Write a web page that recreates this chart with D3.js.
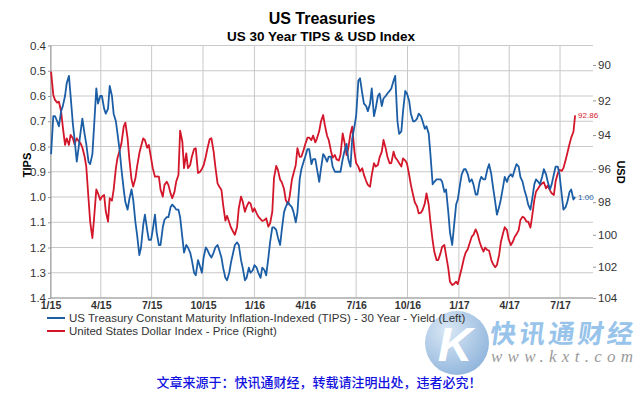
<!DOCTYPE html>
<html>
<head>
<meta charset="utf-8">
<script src="https://cdnjs.cloudflare.com/ajax/libs/d3/7.8.5/d3.min.js"></script>
<style>
body{margin:0;background:#fff;}
text{font-family:"Liberation Sans",Arial,sans-serif;}
</style>
</head>
<body>
<div id="chart"></div>
<script>
// two readings a week (Friday, then the following Tuesday), first Friday of 2015 onward
var firstWeek = "2015-01-02";
var tipsYield = [
	0.83,0.68, 0.68,0.70, 0.72,0.66, 0.64,0.60, 0.55,0.52, 0.60,0.71, 0.77,0.86, 0.81,0.74, 0.69,0.75, 0.79,0.86,
	0.87,0.83, 0.72,0.57, 0.63,0.60, 0.60,0.65, 0.67,0.65, 0.56,0.60, 0.67,0.70, 0.75,0.82, 0.89,0.97, 1.02,1.05,
	1.01,0.97, 1.01,1.10, 1.15,1.23, 1.20,1.11, 1.07,1.13, 1.17,1.17, 1.13,1.07, 1.14,1.19, 1.19,1.12, 1.09,1.08,
	1.08,1.04, 1.03,1.04, 1.05,1.05, 1.08,1.16, 1.22,1.19, 1.20,1.22, 1.25,1.30, 1.31,1.25, 1.27,1.30, 1.24,1.20,
	1.21,1.23, 1.24,1.22, 1.20,1.19, 1.21,1.24, 1.28,1.32, 1.33,1.30, 1.26,1.22, 1.19,1.18, 1.19,1.25, 1.28,1.33,
	1.32,1.28, 1.30,1.29, 1.27,1.28, 1.30,1.32, 1.28,1.29, 1.31,1.24, 1.18,1.12, 1.12,1.13, 1.16,1.19, 1.13,1.06,
	1.04,1.02, 1.03,1.04, 1.06,1.10, 1.06,0.93, 0.89,0.86, 0.84,0.81, 0.81,0.87, 0.85,0.85, 0.89,0.94, 0.89,0.83,
	0.84,0.86, 0.84,0.84, 0.88,0.90, 0.90,0.90, 0.90,0.85, 0.82,0.79, 0.85,0.88, 0.77,0.72, 0.68,0.54, 0.53,0.59,
	0.63,0.64, 0.66,0.63, 0.57,0.68, 0.65,0.60, 0.59,0.64, 0.61,0.60, 0.59,0.58, 0.57,0.54, 0.52,0.70, 0.75,0.74,
	0.66,0.58, 0.59,0.62, 0.67,0.70, 0.70,0.69, 0.67,0.68, 0.70,0.73, 0.72,0.75, 0.83,0.95, 0.94,0.93, 0.93,0.93,
	0.94,0.98, 0.97,1.06, 1.14,1.19, 1.12,1.03, 1.01,0.95, 0.91,0.89, 0.89,0.91, 0.94,0.93, 0.95,0.99, 0.99,0.94,
	0.92,0.93, 0.93,0.89, 0.87,0.91, 0.96,1.02, 1.07,1.04, 1.01,0.96, 0.92,0.94, 0.92,0.91, 0.92,0.89, 0.87,0.88,
	0.92,0.94, 0.97,1.00, 1.03,1.05, 1.01,0.95, 0.93,0.94, 0.95,0.92, 0.89,0.91, 0.94,0.97, 0.95,0.91, 0.88,0.88,
	0.91,0.99, 1.05,1.04, 1.02,0.98, 0.97,1.01, 1.00
];
var usdIndex = [
	90.37,91.69, 91.97,92.13, 92.07,92.64, 93.51,94.58, 94.19,94.58, 93.99,94.19, 94.54,94.19, 94.34,94.50, 94.73,95.26, 95.85,97.76,
	99.19,100.20, 98.98,97.22, 97.46,97.86, 97.66,97.56, 98.57,99.19, 97.76,97.90, 97.25,95.96, 95.33,94.88, 94.48,93.51, 93.28,94.19,
	95.37,96.62, 97.05,96.56, 95.85,95.07, 94.67,94.19, 94.29,94.74, 94.58,95.36, 95.95,96.46, 96.45,96.46, 97.25,97.66, 96.95,96.76,
	96.95,97.48, 97.76,97.36, 96.75,96.36, 93.75,94.39, 95.95,95.07, 95.95,95.76, 95.27,94.82, 94.77,96.24, 96.19,96.00, 95.79,95.26,
	94.77,94.23, 94.19,94.97, 95.85,96.86, 97.05,97.26, 98.16,99.13, 98.83,99.24, 99.55,99.81, 100.00,99.50, 98.37,97.66, 97.96,98.58,
	98.27,98.00, 98.07,98.58, 98.37,98.68, 98.88,99.03, 99.15,99.09, 98.98,99.50, 99.30,98.58, 96.55,95.82, 96.05,96.64, 96.79,97.20,
	97.86,98.13, 97.66,96.66, 96.25,95.76, 94.77,95.28, 95.27,94.88, 94.54,94.15, 94.15,94.29, 94.03,94.43, 94.19,93.77, 93.22,92.84,
	93.41,94.04, 94.29,94.93, 95.33,95.17, 95.43,95.50, 95.17,93.90, 94.39,95.17, 94.77,93.90, 93.51,94.97, 95.65,95.86, 96.15,95.96,
	96.35,96.72, 96.95,97.06, 96.35,95.66, 95.85,95.76, 95.31,94.97, 94.29,94.78, 95.27,95.66, 95.65,94.97, 95.31,95.48, 95.65,95.86,
	95.37,95.50, 95.67,96.36, 96.95,97.56, 98.00,98.25, 98.68,98.64, 98.47,98.07, 97.46,98.17, 99.19,100.37, 101.06,101.58, 101.58,101.16,
	100.74,100.64, 101.27,102.10, 102.96,103.17, 103.11,102.95, 103.11,102.53, 102.10,101.47, 101.12,100.89, 100.54,100.12, 100.01,99.67, 99.91,100.43,
	100.74,101.05, 100.80,100.95, 100.99,101.58, 101.83,102.04, 101.89,101.26, 100.47,99.91, 99.53,99.71, 100.28,100.64, 100.47,100.12, 99.97,99.71,
	99.09,98.88, 98.95,99.19, 99.19,99.56, 98.88,97.86, 97.36,97.16, 96.99,96.86, 96.79,97.16, 96.99,97.28, 97.46,97.56, 96.75,96.26,
	96.05,96.12, 95.95,95.46, 95.07,94.52, 94.15,93.81, 92.86
];
var tipsTicks = [0.4,0.5,0.6,0.7,0.8,0.9,1.0,1.1,1.2,1.3,1.4];
var usdTicks = [90,92,94,96,98,100,102,104];
var seriesNames = [
	"US Treasury Constant Maturity Inflation-Indexed (TIPS) - 30 Year - Yield  (Left)",
	"United States Dollar Index - Price  (Right)"
];
var seriesColors = ["#1c5ea6","#d3162a"];

(function(){
	var width = 640;
	var height = 398;
	var plotLeft = 51, plotRight = 593, plotTop = 45.5, plotBottom = 298;
	var parse = d3.timeParse("%Y-%m-%d");
	var start = parse(firstWeek);
	var dates = tipsYield.map(function(d,i){
		return d3.timeDay.offset(start, 7*Math.floor(i/2) + (i%2)*4);
	});

	var svg = d3.select('#chart').append('svg')
		.attr('width', width)
		.attr('height', height);

	var x = d3.scaleTime()
		.domain([parse("2015-01-01"), parse("2017-08-29")])
		.range([50.5, plotRight]);
	var yL = d3.scaleLinear().domain([0.4,1.4]).range([plotTop,plotBottom]);
	var yR = d3.scaleLog().domain([88.92,104]).range([plotTop,plotBottom]);

	// grid
	var quarters = d3.timeMonth.every(3).range(parse("2015-01-01"), parse("2017-08-29"));
	svg.append('g').selectAll('line').data(tipsTicks).enter().append('line')
		.attr('x1', plotLeft).attr('x2', plotRight)
		.attr('y1', function(d){ return yL(d); }).attr('y2', function(d){ return yL(d); })
		.attr('stroke', '#c9c9c9');
	svg.append('g').selectAll('line').data(quarters).enter().append('line')
		.attr('x1', function(d){ return x(d); }).attr('x2', function(d){ return x(d); })
		.attr('y1', plotTop).attr('y2', plotBottom)
		.attr('stroke', '#c9c9c9');
	svg.append('line').attr('x1',plotLeft).attr('x2',plotLeft).attr('y1',plotTop).attr('y2',plotBottom).attr('stroke','#999');
	svg.append('line').attr('x1',plotLeft).attr('x2',plotRight).attr('y1',plotBottom).attr('y2',plotBottom).attr('stroke','#999');

	// axes
	var ax = svg.append('g').attr('transform','translate('+plotLeft+',0)')
		.call(d3.axisLeft(yL).tickValues(tipsTicks).tickFormat(d3.format('.1f')).tickSize(3).tickPadding(2));
	var ar = svg.append('g').attr('transform','translate('+plotRight+',0)')
		.call(d3.axisRight(yR).tickValues(usdTicks).tickFormat(d3.format('d')).tickSize(3).tickPadding(2));
	var ab = svg.append('g').attr('transform','translate(0,'+plotBottom+')')
		.call(d3.axisBottom(x).tickValues(quarters).tickFormat(d3.timeFormat('%-m/%y')).tickSize(0).tickPadding(4));
	[ax,ar,ab].forEach(function(g){
		g.select('.domain').remove();
		g.selectAll('line').attr('stroke','#999');
		g.selectAll('text').attr('fill','#333').style('font-size','11.5px');
	});
	ab.selectAll('text').style('font-weight','bold').style('font-size','10.5px');

	// series
	var lineL = d3.line().x(function(d,i){ return x(dates[i]); }).y(function(d){ return yL(d); });
	var lineR = d3.line().x(function(d,i){ return x(dates[i]); }).y(function(d){ return yR(d); });
	svg.append('path').attr('d', lineR(usdIndex)).attr('fill','none')
		.attr('stroke', seriesColors[1]).attr('stroke-width', 1.8).attr('stroke-linejoin','round');
	svg.append('path').attr('d', lineL(tipsYield)).attr('fill','none')
		.attr('stroke', seriesColors[0]).attr('stroke-width', 1.8).attr('stroke-linejoin','round');

	var n = dates.length-1;
	svg.append('text').attr('x', x(dates[n])+3).attr('y', yR(usdIndex[n])+3)
		.attr('fill', seriesColors[1]).style('font-size','8px').text(d3.format('.2f')(usdIndex[n]));
	svg.append('text').attr('x', x(dates[n])+3).attr('y', yL(tipsYield[n])+3)
		.attr('fill', seriesColors[0]).style('font-size','8px').text(d3.format('.2f')(tipsYield[n]));

	// titles
	svg.append('text').attr('x',322).attr('y',24).attr('text-anchor','middle')
		.style('font-size','16px').style('font-weight','bold').text('US Treasuries');
	svg.append('text').attr('x',321).attr('y',41).attr('text-anchor','middle')
		.style('font-size','13.5px').style('font-weight','bold').text('US 30 Year TIPS & USD Index');
	svg.append('text').attr('transform','translate(31,165) rotate(-90)').attr('text-anchor','middle')
		.style('font-size','11px').style('font-weight','bold').text('TIPS');
	svg.append('text').attr('transform','translate(617,172) rotate(90)').attr('text-anchor','middle')
		.style('font-size','11px').style('font-weight','bold').text('USD');

	// watermark
	var grad = svg.append('defs').append('radialGradient').attr('id','wm')
		.attr('cx','35%').attr('cy','30%').attr('r','75%');
	grad.append('stop').attr('offset','0%').attr('stop-color','#d3e3f3');
	grad.append('stop').attr('offset','100%').attr('stop-color','#7ea9d6');
	svg.append('circle').attr('cx',457).attr('cy',343).attr('r',32)
		.attr('fill','url(#wm)').attr('opacity',0.85);
	svg.append('text').attr('x',455).attr('y',361).attr('text-anchor','middle')
		.attr('fill','#fff').style('font-size','48px').style('font-weight','bold').style('font-style','italic').text('K');
	svg.append('text').attr('transform','translate(489,343) skewX(-8)').attr('textLength',143)
		.attr('fill','#8dbde8').attr('opacity',0.9)
		.style('font-family','"Noto Sans CJK SC"').style('font-size','26px').style('font-weight','bold')
		.text('快讯通财经');
	svg.append('text').attr('x',491).attr('y',362).attr('textLength',142)
		.attr('fill','#9a9a9a')
		.style('font-family','"Liberation Serif",serif').style('font-size','17px').style('font-style','italic')
		.text('www.kxt.com');

	// legend
	var leg = svg.append('g').selectAll('g').data(seriesNames).enter().append('g')
		.attr('transform', function(d,i){ return 'translate(47,'+(318+i*13)+')'; });
	leg.append('line').attr('x1',0).attr('x2',18)
		.attr('stroke', function(d,i){ return seriesColors[i]; }).attr('stroke-width',2);
	leg.append('text').attr('x',22).attr('y',4).attr('fill','#333')
		.style('font-size','11.5px').text(function(d){ return d; });

	svg.append('text').attr('x',319).attr('y',387).attr('text-anchor','middle')
		.attr('fill','#1212e0').style('font-family','"Noto Sans CJK SC"').style('font-size','13px').style('font-weight','500')
		.text('文章来源于：快讯通财经，转载请注明出处，违者必究！');
})();
</script>
</body>
</html>
